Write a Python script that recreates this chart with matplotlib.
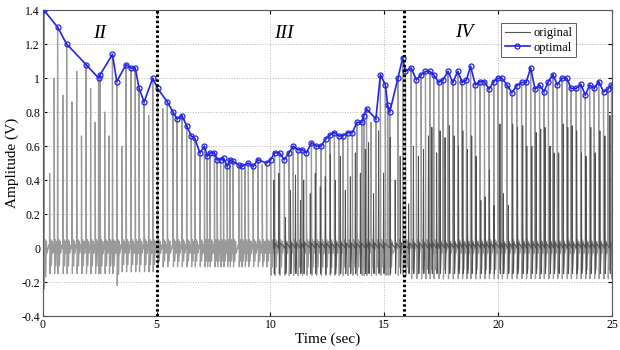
import numpy as np
import matplotlib
matplotlib.use("Agg")
import matplotlib.pyplot as plt
from matplotlib.lines import Line2D

plt.rcParams['font.family'] = ['Liberation Serif', 'DejaVu Serif']

# ---------------- data ----------------
# "optimal" envelope points (time s, amplitude V)
opt_t = [0.05, 0.65, 1.05, 1.90, 2.45, 2.52, 3.06, 3.25, 3.66, 3.87, 4.06, 4.23, 4.45, 4.83,
         5.04, 5.47, 5.72, 5.90, 6.11, 6.32, 6.52, 6.68, 6.90, 7.10, 7.22, 7.34, 7.54, 7.66,
         7.81, 7.94, 8.10, 8.22, 8.36, 8.61, 8.73, 9.03, 9.24, 9.45, 9.83, 10.01, 10.18, 10.40,
         10.61, 10.81, 11.00, 11.20, 11.39, 11.58, 11.80, 12.01, 12.22, 12.42, 12.61, 12.81,
         13.00, 13.18, 13.39, 13.60, 13.80, 14.01, 14.10, 14.22, 14.63, 14.83, 15.05, 15.15,
         15.24, 15.60, 15.81, 15.93, 16.18, 16.41, 16.62, 16.81, 17.00, 17.17, 17.39, 17.58,
         17.80, 18.01, 18.23, 18.42, 18.61, 18.79, 19.00, 19.20, 19.40, 19.60, 19.81, 19.99,
         20.17, 20.39, 20.60, 20.82, 21.03, 21.23, 21.43, 21.62, 21.82, 22.01, 22.21, 22.41,
         22.60, 22.80, 23.02, 23.20, 23.43, 23.63, 23.83, 24.02, 24.22, 24.42, 24.63, 24.82,
         24.98]
opt_v = [1.40, 1.30, 1.20, 1.08, 1.00, 1.02, 1.14, 0.98, 1.08, 1.06, 1.06, 0.94, 0.86, 1.00,
         0.94, 0.86, 0.80, 0.76, 0.78, 0.72, 0.66, 0.645, 0.56, 0.60, 0.54, 0.56, 0.56, 0.52,
         0.52, 0.53, 0.48, 0.52, 0.51, 0.49, 0.48, 0.50, 0.48, 0.52, 0.50, 0.52, 0.56, 0.56,
         0.52, 0.56, 0.60, 0.58, 0.58, 0.56, 0.62, 0.60, 0.60, 0.64, 0.665, 0.68,
         0.66, 0.66, 0.68, 0.68, 0.74, 0.74, 0.78, 0.82, 0.76, 1.02, 0.96, 0.84,
         0.80, 1.00, 1.12, 1.04, 1.06, 0.99, 1.02, 1.04, 1.04, 1.02, 0.975, 0.99,
         1.04, 0.975, 1.04, 0.975, 0.99, 1.07, 0.96, 0.98, 0.98, 0.935, 0.98, 1.00,
         1.00, 0.96, 0.915, 0.955, 0.975, 0.975, 1.06, 0.935, 0.96, 0.92, 0.98, 1.02,
         0.96, 1.00, 1.00, 0.94, 0.94, 0.965, 0.90, 0.96, 0.94, 0.98, 0.92, 0.935,
         0.96]

# additional large spikes of the original signal (not on the optimal curve)
extra_t = [0.30, 0.50, 0.88, 1.28, 1.49, 1.70, 2.10, 2.30, 2.72, 2.91, 3.47, 4.65, 5.27,
           8.88, 9.64, 14.42]
extra_v = [0.44, 1.00, 0.90, 0.86, 1.04, 0.66, 0.94, 0.74, 0.80, 0.66, 0.60, 0.78, 0.82,
           0.47, 0.49, 0.74]

# trough level after each large spike, piecewise by time segment
trough_start = [0.0, 0.2, 3.15, 3.45, 5.0, 10.0, 16.0]
trough_level = [-0.24, -0.15, -0.22, -0.14, -0.11, -0.16, -0.18]

# smaller (second unit) spikes of the original signal
sec_t = [10.15, 10.37, 10.66, 10.88, 11.10, 11.32, 11.46, 11.75, 11.97, 12.19, 12.41, 12.63,
         12.85, 13.07, 13.29, 13.51, 13.73, 13.95, 14.17, 14.31, 14.53, 14.75, 14.97, 15.26,
         15.48, 15.70, 16.07, 16.28, 16.50, 16.72, 16.94, 17.09, 17.30, 17.45, 17.67, 17.86,
         18.07, 18.26, 18.45, 18.65, 18.84, 19.03, 19.24, 19.43, 19.62, 19.82, 20.08, 20.23,
         20.45, 20.64, 20.85, 21.08, 21.26, 21.48, 21.67, 21.87, 22.06, 22.28, 22.46, 22.66,
         22.86, 23.06, 23.25, 23.45, 23.66, 23.86, 24.07, 24.26, 24.47, 24.69, 24.91]
sec_v = [0.40, 0.44, 0.18, 0.34, 0.43, 0.28, 0.40, 0.32, 0.44, 0.36, 0.42, 0.55,
         0.40, 0.54, 0.34, 0.42, 0.56, 0.44, 0.58, 0.62, 0.32, 0.69, 0.44, 0.65,
         0.40, 0.54, 0.26, 0.60, 0.54, 0.58, 0.66, 0.71, 0.56, 0.69, 0.65, 0.72,
         0.66, 0.60, 0.69, 0.58, 0.66, 0.54, 0.28, 0.30, 0.46, 0.25, 0.73, 0.32,
         0.25, 0.73, 0.71, 0.72, 0.60, 0.60, 0.68, 0.70, 0.71, 0.60, 0.56, 0.56,
         0.73, 0.71, 0.72, 0.69, 0.56, 0.54, 0.71, 0.56, 0.69, 0.66, 0.78]

region_labels = ['II', 'III', 'IV']
region_pos_t = [2.5, 10.6, 18.5]
region_pos_v = [1.26, 1.26, 1.27]
boundary_t = [5.03, 15.85]

xticks = [0, 5, 10, 15, 20, 25]
yticks = [-0.4, -0.2, 0, 0.2, 0.4, 0.6, 0.8, 1.0, 1.2, 1.4]

# ---------------- build original waveform ----------------
main_t = np.array(opt_t + extra_t)
main_v = np.array(opt_v + extra_v)
order = np.argsort(main_t)
main_t, main_v = main_t[order], main_v[order]
idx = np.searchsorted(trough_start, main_t, side='right') - 1
main_q = np.array(trough_level)[idx]

shape_dt = [-0.03, -0.006, 0.0, 0.02, 0.05, 0.08, 0.11, 0.14]
xs, ys = [], []
for t, p, q in zip(main_t, main_v, main_q):
    xs += [t + d for d in shape_dt]
    ys += [0.02, 0.0, p, q, 0.05, q * 0.7, 0.04, -0.03]
xs = np.clip(xs, 0, 25)

sx, sy = [], []
for t, h in zip(sec_t, sec_v):
    sx += [t - 0.012, t, t + 0.018, t + 0.05]
    sy += [0.0, h, -0.15, 0.03]

# ---------------- plot ----------------
fig = plt.figure(figsize=(6.2, 3.5), dpi=100)
ax = fig.add_axes([0.069, 0.097, 0.918, 0.874])

ax.plot(xs, ys, color='#9a9a9a', lw=0.9, zorder=2)
ax.plot(sx, sy, color='#505050', lw=0.7, zorder=2)
ax.plot(opt_t, opt_v, color='#2323e6', lw=1.2, marker='o', ms=3.6,
        mfc='none', mec='#2323e6', mew=0.9, zorder=4)

for b in boundary_t:
    ax.axvline(b, color='black', lw=2.2, ls=(0, (0.8, 0.8)), zorder=5)

for lab, t, v in zip(region_labels, region_pos_t, region_pos_v):
    ax.text(t, v, lab, fontsize=14, style='italic', ha='center', va='center', zorder=6)

ax.set_xlim(0, 25)
ax.set_ylim(-0.4, 1.4)
ax.set_xticks(xticks)
ax.set_yticks(yticks)
ax.set_yticklabels(['%g' % y for y in yticks])
ax.grid(True, color='#b5b5b5', ls=':', lw=0.7, zorder=0)
ax.tick_params(direction='in', length=3, labelsize=8.5, top=True, right=True, pad=2)
for s in ax.spines.values():
    s.set_color('#555555')
    s.set_linewidth(0.8)

ax.set_xlabel('Time (sec)', fontsize=11, labelpad=1)
ax.set_ylabel('Amplitude (V)', fontsize=11, labelpad=2)

handles = [Line2D([], [], color='#555555', lw=0.8),
           Line2D([], [], color='#2323e6', lw=1.2, marker='o', ms=3.6, mfc='none', mew=0.9)]
leg = ax.legend(handles, ['original', 'optimal'], loc='upper right',
                bbox_to_anchor=(0.937, 0.957), fontsize=9, frameon=True, fancybox=False,
                edgecolor='#333333', borderpad=0.3, labelspacing=0.2, handlelength=2.0,
                handletextpad=0.3, borderaxespad=0)
leg.get_frame().set_linewidth(0.7)

fig.savefig('out.png', dpi=100)
